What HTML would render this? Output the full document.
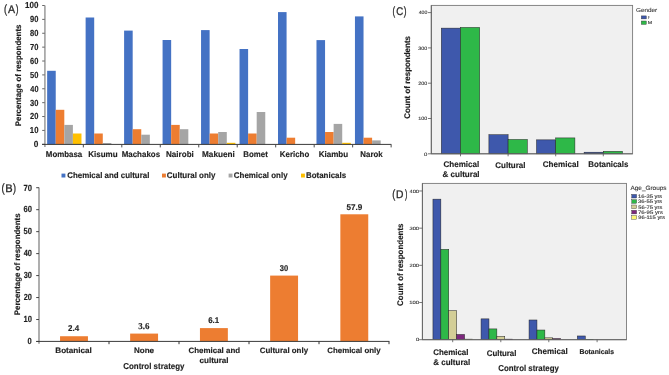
<!DOCTYPE html>
<html><head><meta charset="utf-8"><title>Figure</title>
<style>
html,body{margin:0;padding:0;background:#fff;}
body{width:669px;height:375px;overflow:hidden;font-family:"Liberation Sans", sans-serif;}
svg{display:block;will-change:transform;text-rendering:geometricPrecision;}
</style></head>
<body>
<svg width="669" height="375" viewBox="0 0 669 375">
<rect x="0" y="0" width="669" height="375" fill="#ffffff"/>
<rect x="47.15" y="70.80" width="8.58" height="73.60" fill="#4472C4"/>
<rect x="55.73" y="109.80" width="8.58" height="34.60" fill="#ED7D31"/>
<rect x="64.31" y="124.90" width="8.58" height="19.50" fill="#A5A5A5"/>
<rect x="72.89" y="133.50" width="8.58" height="10.90" fill="#FFC000"/>
<rect x="85.62" y="17.50" width="8.58" height="126.90" fill="#4472C4"/>
<rect x="94.20" y="133.50" width="8.58" height="10.90" fill="#ED7D31"/>
<rect x="102.78" y="143.00" width="8.58" height="1.40" fill="#A5A5A5"/>
<rect x="124.10" y="30.60" width="8.58" height="113.80" fill="#4472C4"/>
<rect x="132.68" y="129.20" width="8.58" height="15.20" fill="#ED7D31"/>
<rect x="141.26" y="134.70" width="8.58" height="9.70" fill="#A5A5A5"/>
<rect x="162.58" y="40.00" width="8.58" height="104.40" fill="#4472C4"/>
<rect x="171.16" y="124.90" width="8.58" height="19.50" fill="#ED7D31"/>
<rect x="179.74" y="129.20" width="8.58" height="15.20" fill="#A5A5A5"/>
<rect x="201.05" y="30.10" width="8.58" height="114.30" fill="#4472C4"/>
<rect x="209.63" y="133.50" width="8.58" height="10.90" fill="#ED7D31"/>
<rect x="218.21" y="132.00" width="8.58" height="12.40" fill="#A5A5A5"/>
<rect x="226.79" y="142.80" width="8.58" height="1.60" fill="#FFC000"/>
<rect x="239.53" y="49.00" width="8.58" height="95.40" fill="#4472C4"/>
<rect x="248.11" y="133.50" width="8.58" height="10.90" fill="#ED7D31"/>
<rect x="256.69" y="112.00" width="8.58" height="32.40" fill="#A5A5A5"/>
<rect x="278.00" y="12.10" width="8.58" height="132.30" fill="#4472C4"/>
<rect x="286.58" y="137.70" width="8.58" height="6.70" fill="#ED7D31"/>
<rect x="316.48" y="40.10" width="8.58" height="104.30" fill="#4472C4"/>
<rect x="325.06" y="132.00" width="8.58" height="12.40" fill="#ED7D31"/>
<rect x="333.64" y="123.90" width="8.58" height="20.50" fill="#A5A5A5"/>
<rect x="342.22" y="142.80" width="8.58" height="1.60" fill="#FFC000"/>
<rect x="354.95" y="16.40" width="8.58" height="128.00" fill="#4472C4"/>
<rect x="363.53" y="137.70" width="8.58" height="6.70" fill="#ED7D31"/>
<rect x="372.11" y="140.40" width="8.58" height="4.00" fill="#A5A5A5"/>
<line x1="44.90" y1="5.40" x2="44.90" y2="147.00" stroke="#A6A6A6" stroke-width="1.7"/>
<line x1="42.20" y1="144.30" x2="44.70" y2="144.30" stroke="#555" stroke-width="0.9"/>
<line x1="42.20" y1="130.42" x2="44.70" y2="130.42" stroke="#555" stroke-width="0.9"/>
<line x1="42.20" y1="116.54" x2="44.70" y2="116.54" stroke="#555" stroke-width="0.9"/>
<line x1="42.20" y1="102.66" x2="44.70" y2="102.66" stroke="#555" stroke-width="0.9"/>
<line x1="42.20" y1="88.78" x2="44.70" y2="88.78" stroke="#555" stroke-width="0.9"/>
<line x1="42.20" y1="74.90" x2="44.70" y2="74.90" stroke="#555" stroke-width="0.9"/>
<line x1="42.20" y1="61.02" x2="44.70" y2="61.02" stroke="#555" stroke-width="0.9"/>
<line x1="42.20" y1="47.14" x2="44.70" y2="47.14" stroke="#555" stroke-width="0.9"/>
<line x1="42.20" y1="33.26" x2="44.70" y2="33.26" stroke="#555" stroke-width="0.9"/>
<line x1="42.20" y1="19.38" x2="44.70" y2="19.38" stroke="#555" stroke-width="0.9"/>
<line x1="42.20" y1="5.50" x2="44.70" y2="5.50" stroke="#555" stroke-width="0.9"/>
<line x1="42.00" y1="144.40" x2="391.30" y2="144.40" stroke="#3a3a3a" stroke-width="1"/>
<line x1="83.33" y1="144.40" x2="83.33" y2="147.40" stroke="#4a4a4a" stroke-width="1.0"/>
<line x1="121.80" y1="144.40" x2="121.80" y2="147.40" stroke="#4a4a4a" stroke-width="1.0"/>
<line x1="160.28" y1="144.40" x2="160.28" y2="147.40" stroke="#4a4a4a" stroke-width="1.0"/>
<line x1="198.75" y1="144.40" x2="198.75" y2="147.40" stroke="#4a4a4a" stroke-width="1.0"/>
<line x1="237.22" y1="144.40" x2="237.22" y2="147.40" stroke="#4a4a4a" stroke-width="1.0"/>
<line x1="275.70" y1="144.40" x2="275.70" y2="147.40" stroke="#4a4a4a" stroke-width="1.0"/>
<line x1="314.18" y1="144.40" x2="314.18" y2="147.40" stroke="#4a4a4a" stroke-width="1.0"/>
<line x1="352.65" y1="144.40" x2="352.65" y2="147.40" stroke="#4a4a4a" stroke-width="1.0"/>
<line x1="391.13" y1="144.40" x2="391.13" y2="147.40" stroke="#4a4a4a" stroke-width="1.0"/>
<rect x="61.50" y="173.60" width="3.90" height="3.90" fill="#4472C4"/>
<rect x="162.00" y="173.60" width="3.90" height="3.90" fill="#ED7D31"/>
<rect x="228.60" y="173.60" width="3.90" height="3.90" fill="#A5A5A5"/>
<rect x="301.00" y="173.60" width="3.90" height="3.90" fill="#FFC000"/>
<rect x="60.05" y="336.23" width="27.90" height="5.17" fill="#ED7D31"/>
<rect x="130.15" y="333.59" width="27.90" height="7.81" fill="#ED7D31"/>
<rect x="199.95" y="328.10" width="27.90" height="13.30" fill="#ED7D31"/>
<rect x="270.15" y="275.59" width="27.90" height="65.81" fill="#ED7D31"/>
<rect x="340.35" y="214.29" width="27.90" height="127.11" fill="#ED7D31"/>
<line x1="39.00" y1="187.60" x2="39.00" y2="343.80" stroke="#A6A6A6" stroke-width="1.8"/>
<line x1="36.20" y1="341.50" x2="39.00" y2="341.50" stroke="#444" stroke-width="1.0"/>
<line x1="36.20" y1="319.53" x2="39.00" y2="319.53" stroke="#444" stroke-width="1.0"/>
<line x1="36.20" y1="297.56" x2="39.00" y2="297.56" stroke="#444" stroke-width="1.0"/>
<line x1="36.20" y1="275.59" x2="39.00" y2="275.59" stroke="#444" stroke-width="1.0"/>
<line x1="36.20" y1="253.62" x2="39.00" y2="253.62" stroke="#444" stroke-width="1.0"/>
<line x1="36.20" y1="231.65" x2="39.00" y2="231.65" stroke="#444" stroke-width="1.0"/>
<line x1="36.20" y1="209.68" x2="39.00" y2="209.68" stroke="#444" stroke-width="1.0"/>
<line x1="36.20" y1="187.71" x2="39.00" y2="187.71" stroke="#444" stroke-width="1.0"/>
<line x1="36.30" y1="341.40" x2="389.40" y2="341.40" stroke="#3a3a3a" stroke-width="1"/>
<line x1="109.00" y1="341.40" x2="109.00" y2="344.20" stroke="#333" stroke-width="1.0"/>
<line x1="179.00" y1="341.40" x2="179.00" y2="344.20" stroke="#333" stroke-width="1.0"/>
<line x1="249.00" y1="341.40" x2="249.00" y2="344.20" stroke="#333" stroke-width="1.0"/>
<line x1="319.00" y1="341.40" x2="319.00" y2="344.20" stroke="#333" stroke-width="1.0"/>
<line x1="389.00" y1="341.40" x2="389.00" y2="344.20" stroke="#333" stroke-width="1.0"/>
<rect x="431.30" y="5.40" width="201.30" height="148.40" fill="#F0F0F0" stroke="#7a7a7a" stroke-width="0.9"/>
<rect x="441.30" y="28.13" width="19.20" height="125.67" fill="#3E58AC" stroke="#222" stroke-width="0.5"/>
<rect x="460.50" y="27.43" width="19.20" height="126.37" fill="#2EB848" stroke="#222" stroke-width="0.5"/>
<rect x="488.90" y="134.74" width="19.20" height="19.06" fill="#3E58AC" stroke="#222" stroke-width="0.5"/>
<rect x="508.10" y="139.47" width="19.20" height="14.33" fill="#2EB848" stroke="#222" stroke-width="0.5"/>
<rect x="536.50" y="139.86" width="19.20" height="13.94" fill="#3E58AC" stroke="#222" stroke-width="0.5"/>
<rect x="555.70" y="137.92" width="19.20" height="15.88" fill="#2EB848" stroke="#222" stroke-width="0.5"/>
<rect x="584.10" y="152.21" width="19.20" height="1.59" fill="#3E58AC" stroke="#222" stroke-width="0.5"/>
<rect x="603.30" y="151.33" width="19.20" height="2.47" fill="#2EB848" stroke="#222" stroke-width="0.5"/>
<line x1="431.30" y1="5.40" x2="431.30" y2="153.80" stroke="#666" stroke-width="1"/>
<line x1="431.30" y1="153.80" x2="632.60" y2="153.80" stroke="#666" stroke-width="1"/>
<line x1="428.00" y1="153.80" x2="431.30" y2="153.80" stroke="#555" stroke-width="0.8"/>
<line x1="428.00" y1="118.50" x2="431.30" y2="118.50" stroke="#555" stroke-width="0.8"/>
<line x1="428.00" y1="83.20" x2="431.30" y2="83.20" stroke="#555" stroke-width="0.8"/>
<line x1="428.00" y1="47.90" x2="431.30" y2="47.90" stroke="#555" stroke-width="0.8"/>
<line x1="428.00" y1="12.60" x2="431.30" y2="12.60" stroke="#555" stroke-width="0.8"/>
<line x1="460.50" y1="153.80" x2="460.50" y2="156.30" stroke="#555" stroke-width="0.8"/>
<line x1="508.10" y1="153.80" x2="508.10" y2="156.30" stroke="#555" stroke-width="0.8"/>
<line x1="555.70" y1="153.80" x2="555.70" y2="156.30" stroke="#555" stroke-width="0.8"/>
<line x1="603.30" y1="153.80" x2="603.30" y2="156.30" stroke="#555" stroke-width="0.8"/>
<rect x="641.30" y="15.90" width="5.00" height="3.00" fill="#3E58AC" stroke="#333" stroke-width="0.4"/>
<rect x="641.30" y="21.00" width="5.00" height="3.40" fill="#2EB848" stroke="#333" stroke-width="0.4"/>
<rect x="422.40" y="183.40" width="204.10" height="156.30" fill="#F0F0F0" stroke="#7a7a7a" stroke-width="0.9"/>
<rect x="432.95" y="199.16" width="7.90" height="140.54" fill="#3E58AC" stroke="#222" stroke-width="0.5"/>
<rect x="440.85" y="249.35" width="7.90" height="90.35" fill="#2EB848" stroke="#222" stroke-width="0.5"/>
<rect x="448.75" y="310.70" width="7.90" height="29.00" fill="#D3CE97" stroke="#222" stroke-width="0.5"/>
<rect x="456.65" y="334.49" width="7.90" height="5.21" fill="#7C287D" stroke="#222" stroke-width="0.5"/>
<rect x="464.55" y="339.14" width="7.90" height="0.56" fill="#FBF873" stroke="#222" stroke-width="0.5"/>
<rect x="481.05" y="318.88" width="7.90" height="20.82" fill="#3E58AC" stroke="#222" stroke-width="0.5"/>
<rect x="488.95" y="328.92" width="7.90" height="10.78" fill="#2EB848" stroke="#222" stroke-width="0.5"/>
<rect x="496.85" y="336.35" width="7.90" height="3.35" fill="#D3CE97" stroke="#222" stroke-width="0.5"/>
<rect x="504.75" y="339.14" width="7.90" height="0.56" fill="#7C287D" stroke="#222" stroke-width="0.5"/>
<rect x="529.05" y="319.99" width="7.90" height="19.71" fill="#3E58AC" stroke="#222" stroke-width="0.5"/>
<rect x="536.95" y="330.03" width="7.90" height="9.67" fill="#2EB848" stroke="#222" stroke-width="0.5"/>
<rect x="544.85" y="337.84" width="7.90" height="1.86" fill="#D3CE97" stroke="#222" stroke-width="0.5"/>
<rect x="552.75" y="338.58" width="7.90" height="1.12" fill="#7C287D" stroke="#222" stroke-width="0.5"/>
<rect x="577.35" y="335.98" width="7.90" height="3.72" fill="#3E58AC" stroke="#222" stroke-width="0.5"/>
<rect x="585.25" y="339.33" width="7.90" height="0.37" fill="#2EB848" stroke="#222" stroke-width="0.5"/>
<line x1="422.40" y1="183.40" x2="422.40" y2="339.70" stroke="#666" stroke-width="1"/>
<line x1="422.40" y1="339.70" x2="626.50" y2="339.70" stroke="#666" stroke-width="1"/>
<line x1="419.20" y1="339.70" x2="422.40" y2="339.70" stroke="#555" stroke-width="0.8"/>
<line x1="419.20" y1="302.52" x2="422.40" y2="302.52" stroke="#555" stroke-width="0.8"/>
<line x1="419.20" y1="265.34" x2="422.40" y2="265.34" stroke="#555" stroke-width="0.8"/>
<line x1="419.20" y1="228.16" x2="422.40" y2="228.16" stroke="#555" stroke-width="0.8"/>
<line x1="419.20" y1="190.98" x2="422.40" y2="190.98" stroke="#555" stroke-width="0.8"/>
<line x1="452.70" y1="339.70" x2="452.70" y2="342.20" stroke="#555" stroke-width="0.8"/>
<line x1="500.80" y1="339.70" x2="500.80" y2="342.20" stroke="#555" stroke-width="0.8"/>
<line x1="548.80" y1="339.70" x2="548.80" y2="342.20" stroke="#555" stroke-width="0.8"/>
<line x1="597.10" y1="339.70" x2="597.10" y2="342.20" stroke="#555" stroke-width="0.8"/>
<rect x="631.80" y="194.40" width="4.80" height="3.60" fill="#3E58AC" stroke="#333" stroke-width="0.4"/>
<rect x="631.80" y="199.70" width="4.80" height="3.60" fill="#2EB848" stroke="#333" stroke-width="0.4"/>
<rect x="631.80" y="205.00" width="4.80" height="3.60" fill="#D3CE97" stroke="#333" stroke-width="0.4"/>
<rect x="631.80" y="210.30" width="4.80" height="3.60" fill="#7C287D" stroke="#333" stroke-width="0.4"/>
<rect x="631.80" y="215.60" width="4.80" height="3.60" fill="#FBF873" stroke="#333" stroke-width="0.4"/>
<text x="3.94" y="13.30" font-size="12.0" fill="#2a2a2a" stroke="#2a2a2a" stroke-width="0.3" font-family='"Liberation Sans", sans-serif' textLength="3.02" lengthAdjust="spacingAndGlyphs">(</text>
<text x="7.88" y="13.30" font-size="11.1" fill="#2a2a2a" stroke="#2a2a2a" stroke-width="0.3" font-family='"Liberation Sans", sans-serif' textLength="7.04" lengthAdjust="spacingAndGlyphs">A</text>
<text x="15.65" y="13.30" font-size="12.0" fill="#2a2a2a" stroke="#2a2a2a" stroke-width="0.3" font-family='"Liberation Sans", sans-serif' textLength="2.76" lengthAdjust="spacingAndGlyphs">)</text>
<text x="1.42" y="191.70" font-size="12.0" fill="#2a2a2a" stroke="#2a2a2a" stroke-width="0.3" font-family='"Liberation Sans", sans-serif' textLength="3.14" lengthAdjust="spacingAndGlyphs">(</text>
<text x="5.19" y="191.70" font-size="11.1" fill="#2a2a2a" stroke="#2a2a2a" stroke-width="0.3" font-family='"Liberation Sans", sans-serif' textLength="7.40" lengthAdjust="spacingAndGlyphs">B</text>
<text x="13.05" y="191.70" font-size="12.0" fill="#2a2a2a" stroke="#2a2a2a" stroke-width="0.3" font-family='"Liberation Sans", sans-serif' textLength="3.02" lengthAdjust="spacingAndGlyphs">)</text>
<text x="392.61" y="14.90" font-size="12.0" fill="#2a2a2a" stroke="#2a2a2a" stroke-width="0.3" font-family='"Liberation Sans", sans-serif' textLength="2.64" lengthAdjust="spacingAndGlyphs">(</text>
<text x="396.31" y="14.90" font-size="11.1" fill="#2a2a2a" stroke="#2a2a2a" stroke-width="0.3" font-family='"Liberation Sans", sans-serif' textLength="6.96" lengthAdjust="spacingAndGlyphs">C</text>
<text x="403.65" y="14.90" font-size="12.0" fill="#2a2a2a" stroke="#2a2a2a" stroke-width="0.3" font-family='"Liberation Sans", sans-serif' textLength="2.76" lengthAdjust="spacingAndGlyphs">)</text>
<text x="392.24" y="197.80" font-size="12.0" fill="#2a2a2a" stroke="#2a2a2a" stroke-width="0.3" font-family='"Liberation Sans", sans-serif' textLength="3.02" lengthAdjust="spacingAndGlyphs">(</text>
<text x="395.96" y="197.80" font-size="11.1" fill="#2a2a2a" stroke="#2a2a2a" stroke-width="0.3" font-family='"Liberation Sans", sans-serif' textLength="7.44" lengthAdjust="spacingAndGlyphs">D</text>
<text x="404.96" y="197.80" font-size="12.0" fill="#2a2a2a" stroke="#2a2a2a" stroke-width="0.3" font-family='"Liberation Sans", sans-serif' textLength="2.39" lengthAdjust="spacingAndGlyphs">)</text>
<text x="33.72" y="147.20" font-size="8.8" font-weight="bold" fill="#1e1e1e" stroke="#1e1e1e" stroke-width="0.15" font-family='"Liberation Sans", sans-serif' textLength="4.62" lengthAdjust="spacingAndGlyphs">0</text>
<text x="29.87" y="133.32" font-size="8.8" font-weight="bold" fill="#1e1e1e" stroke="#1e1e1e" stroke-width="0.15" font-family='"Liberation Sans", sans-serif' textLength="8.62" lengthAdjust="spacingAndGlyphs">10</text>
<text x="30.10" y="119.44" font-size="8.8" font-weight="bold" fill="#1e1e1e" stroke="#1e1e1e" stroke-width="0.15" font-family='"Liberation Sans", sans-serif' textLength="8.38" lengthAdjust="spacingAndGlyphs">20</text>
<text x="30.10" y="105.56" font-size="8.8" font-weight="bold" fill="#1e1e1e" stroke="#1e1e1e" stroke-width="0.15" font-family='"Liberation Sans", sans-serif' textLength="8.38" lengthAdjust="spacingAndGlyphs">30</text>
<text x="30.32" y="91.68" font-size="8.8" font-weight="bold" fill="#1e1e1e" stroke="#1e1e1e" stroke-width="0.15" font-family='"Liberation Sans", sans-serif' textLength="8.16" lengthAdjust="spacingAndGlyphs">40</text>
<text x="30.10" y="77.80" font-size="8.8" font-weight="bold" fill="#1e1e1e" stroke="#1e1e1e" stroke-width="0.15" font-family='"Liberation Sans", sans-serif' textLength="8.38" lengthAdjust="spacingAndGlyphs">50</text>
<text x="30.10" y="63.92" font-size="8.8" font-weight="bold" fill="#1e1e1e" stroke="#1e1e1e" stroke-width="0.15" font-family='"Liberation Sans", sans-serif' textLength="8.38" lengthAdjust="spacingAndGlyphs">60</text>
<text x="30.10" y="50.04" font-size="8.8" font-weight="bold" fill="#1e1e1e" stroke="#1e1e1e" stroke-width="0.15" font-family='"Liberation Sans", sans-serif' textLength="8.38" lengthAdjust="spacingAndGlyphs">70</text>
<text x="30.10" y="36.16" font-size="8.8" font-weight="bold" fill="#1e1e1e" stroke="#1e1e1e" stroke-width="0.15" font-family='"Liberation Sans", sans-serif' textLength="8.38" lengthAdjust="spacingAndGlyphs">80</text>
<text x="30.10" y="22.28" font-size="8.8" font-weight="bold" fill="#1e1e1e" stroke="#1e1e1e" stroke-width="0.15" font-family='"Liberation Sans", sans-serif' textLength="8.38" lengthAdjust="spacingAndGlyphs">90</text>
<text x="25.01" y="8.40" font-size="8.8" font-weight="bold" fill="#1e1e1e" stroke="#1e1e1e" stroke-width="0.15" font-family='"Liberation Sans", sans-serif' textLength="13.35" lengthAdjust="spacingAndGlyphs">100</text>
<text x="45.87" y="157.30" font-size="8.2" font-weight="bold" fill="#1e1e1e" stroke="#1e1e1e" stroke-width="0.15" font-family='"Liberation Sans", sans-serif' textLength="36.40" lengthAdjust="spacingAndGlyphs">Mombasa</text>
<text x="88.16" y="157.30" font-size="8.2" font-weight="bold" fill="#1e1e1e" stroke="#1e1e1e" stroke-width="0.15" font-family='"Liberation Sans", sans-serif' textLength="29.41" lengthAdjust="spacingAndGlyphs">Kisumu</text>
<text x="121.67" y="157.30" font-size="8.2" font-weight="bold" fill="#1e1e1e" stroke="#1e1e1e" stroke-width="0.15" font-family='"Liberation Sans", sans-serif' textLength="38.42" lengthAdjust="spacingAndGlyphs">Machakos</text>
<text x="166.01" y="157.30" font-size="8.2" font-weight="bold" fill="#1e1e1e" stroke="#1e1e1e" stroke-width="0.15" font-family='"Liberation Sans", sans-serif' textLength="27.86" lengthAdjust="spacingAndGlyphs">Nairobi</text>
<text x="202.00" y="157.30" font-size="8.2" font-weight="bold" fill="#1e1e1e" stroke="#1e1e1e" stroke-width="0.15" font-family='"Liberation Sans", sans-serif' textLength="32.82" lengthAdjust="spacingAndGlyphs">Makueni</text>
<text x="243.32" y="157.30" font-size="8.2" font-weight="bold" fill="#1e1e1e" stroke="#1e1e1e" stroke-width="0.15" font-family='"Liberation Sans", sans-serif' textLength="24.51" lengthAdjust="spacingAndGlyphs">Bomet</text>
<text x="279.82" y="157.30" font-size="8.2" font-weight="bold" fill="#1e1e1e" stroke="#1e1e1e" stroke-width="0.15" font-family='"Liberation Sans", sans-serif' textLength="29.45" lengthAdjust="spacingAndGlyphs">Kericho</text>
<text x="318.66" y="157.30" font-size="8.2" font-weight="bold" fill="#1e1e1e" stroke="#1e1e1e" stroke-width="0.15" font-family='"Liberation Sans", sans-serif' textLength="29.51" lengthAdjust="spacingAndGlyphs">Kiambu</text>
<text x="360.37" y="157.20" font-size="8.2" font-weight="bold" fill="#1e1e1e" stroke="#1e1e1e" stroke-width="0.15" font-family='"Liberation Sans", sans-serif' textLength="22.25" lengthAdjust="spacingAndGlyphs">Narok</text>
<text transform="translate(21.30 126.18) rotate(-90)" x="0" y="0" font-size="8.1" font-weight="bold" fill="#1e1e1e" stroke="#1e1e1e" stroke-width="0.15" font-family='"Liberation Sans", sans-serif' textLength="101.64" lengthAdjust="spacingAndGlyphs">Percentage of respondents</text>
<text x="67.22" y="178.10" font-size="8.3" font-weight="bold" fill="#1e1e1e" stroke="#1e1e1e" stroke-width="0.15" font-family='"Liberation Sans", sans-serif' textLength="82.12" lengthAdjust="spacingAndGlyphs">Chemical and cultural</text>
<text x="166.87" y="178.10" font-size="8.3" font-weight="bold" fill="#1e1e1e" stroke="#1e1e1e" stroke-width="0.15" font-family='"Liberation Sans", sans-serif' textLength="48.59" lengthAdjust="spacingAndGlyphs">Cultural only</text>
<text x="233.87" y="178.10" font-size="8.3" font-weight="bold" fill="#1e1e1e" stroke="#1e1e1e" stroke-width="0.15" font-family='"Liberation Sans", sans-serif' textLength="53.69" lengthAdjust="spacingAndGlyphs">Chemical only</text>
<text x="305.98" y="178.10" font-size="8.3" font-weight="bold" fill="#1e1e1e" stroke="#1e1e1e" stroke-width="0.15" font-family='"Liberation Sans", sans-serif' textLength="40.13" lengthAdjust="spacingAndGlyphs">Botanicals</text>
<text x="27.60" y="344.30" font-size="8.9" font-weight="bold" fill="#1e1e1e" stroke="#1e1e1e" stroke-width="0.15" font-family='"Liberation Sans", sans-serif' textLength="4.18" lengthAdjust="spacingAndGlyphs">0</text>
<text x="23.42" y="322.33" font-size="8.9" font-weight="bold" fill="#1e1e1e" stroke="#1e1e1e" stroke-width="0.15" font-family='"Liberation Sans", sans-serif' textLength="8.45" lengthAdjust="spacingAndGlyphs">10</text>
<text x="23.63" y="300.36" font-size="8.9" font-weight="bold" fill="#1e1e1e" stroke="#1e1e1e" stroke-width="0.15" font-family='"Liberation Sans", sans-serif' textLength="8.22" lengthAdjust="spacingAndGlyphs">20</text>
<text x="23.63" y="278.39" font-size="8.9" font-weight="bold" fill="#1e1e1e" stroke="#1e1e1e" stroke-width="0.15" font-family='"Liberation Sans", sans-serif' textLength="8.22" lengthAdjust="spacingAndGlyphs">30</text>
<text x="23.63" y="256.42" font-size="8.9" font-weight="bold" fill="#1e1e1e" stroke="#1e1e1e" stroke-width="0.15" font-family='"Liberation Sans", sans-serif' textLength="8.22" lengthAdjust="spacingAndGlyphs">40</text>
<text x="23.42" y="234.45" font-size="8.9" font-weight="bold" fill="#1e1e1e" stroke="#1e1e1e" stroke-width="0.15" font-family='"Liberation Sans", sans-serif' textLength="8.45" lengthAdjust="spacingAndGlyphs">50</text>
<text x="23.42" y="212.48" font-size="8.9" font-weight="bold" fill="#1e1e1e" stroke="#1e1e1e" stroke-width="0.15" font-family='"Liberation Sans", sans-serif' textLength="8.45" lengthAdjust="spacingAndGlyphs">60</text>
<text x="23.42" y="190.51" font-size="8.9" font-weight="bold" fill="#1e1e1e" stroke="#1e1e1e" stroke-width="0.15" font-family='"Liberation Sans", sans-serif' textLength="8.45" lengthAdjust="spacingAndGlyphs">70</text>
<text x="68.07" y="330.90" font-size="8.4" font-weight="bold" fill="#1e1e1e" stroke="#1e1e1e" stroke-width="0.15" font-family='"Liberation Sans", sans-serif' textLength="11.09" lengthAdjust="spacingAndGlyphs">2.4</text>
<text x="138.35" y="329.00" font-size="9.0" font-weight="bold" fill="#1e1e1e" stroke="#1e1e1e" stroke-width="0.15" font-family='"Liberation Serif", serif' textLength="11.14" lengthAdjust="spacingAndGlyphs">3.6</text>
<text x="208.22" y="323.00" font-size="8.4" font-weight="bold" fill="#1e1e1e" stroke="#1e1e1e" stroke-width="0.15" font-family='"Liberation Sans", sans-serif' textLength="11.02" lengthAdjust="spacingAndGlyphs">6.1</text>
<text x="279.77" y="270.50" font-size="8.4" font-weight="bold" fill="#1e1e1e" stroke="#1e1e1e" stroke-width="0.15" font-family='"Liberation Sans", sans-serif' textLength="8.42" lengthAdjust="spacingAndGlyphs">30</text>
<text x="346.41" y="209.90" font-size="8.4" font-weight="bold" fill="#1e1e1e" stroke="#1e1e1e" stroke-width="0.15" font-family='"Liberation Sans", sans-serif' textLength="15.85" lengthAdjust="spacingAndGlyphs">57.9</text>
<text x="55.28" y="352.80" font-size="7.9" font-weight="bold" fill="#1e1e1e" stroke="#1e1e1e" stroke-width="0.15" font-family='"Liberation Sans", sans-serif' textLength="36.60" lengthAdjust="spacingAndGlyphs">Botanical</text>
<text x="133.94" y="352.80" font-size="7.9" font-weight="bold" fill="#1e1e1e" stroke="#1e1e1e" stroke-width="0.15" font-family='"Liberation Sans", sans-serif' textLength="20.10" lengthAdjust="spacingAndGlyphs">None</text>
<text x="188.55" y="352.80" font-size="7.9" font-weight="bold" fill="#1e1e1e" stroke="#1e1e1e" stroke-width="0.15" font-family='"Liberation Sans", sans-serif' textLength="51.52" lengthAdjust="spacingAndGlyphs">Chemical and</text>
<text x="199.54" y="362.50" font-size="7.9" font-weight="bold" fill="#1e1e1e" stroke="#1e1e1e" stroke-width="0.15" font-family='"Liberation Sans", sans-serif' textLength="29.02" lengthAdjust="spacingAndGlyphs">cultural</text>
<text x="259.75" y="353.30" font-size="7.9" font-weight="bold" fill="#1e1e1e" stroke="#1e1e1e" stroke-width="0.15" font-family='"Liberation Sans", sans-serif' textLength="48.28" lengthAdjust="spacingAndGlyphs">Cultural only</text>
<text x="327.35" y="353.30" font-size="7.9" font-weight="bold" fill="#1e1e1e" stroke="#1e1e1e" stroke-width="0.15" font-family='"Liberation Sans", sans-serif' textLength="53.20" lengthAdjust="spacingAndGlyphs">Chemical only</text>
<text x="123.27" y="368.50" font-size="8.6" font-weight="bold" fill="#1e1e1e" stroke="#1e1e1e" stroke-width="0.15" font-family='"Liberation Sans", sans-serif' textLength="61.15" lengthAdjust="spacingAndGlyphs">Control strategy</text>
<text transform="translate(19.50 315.18) rotate(-90)" x="0" y="0" font-size="8.1" font-weight="bold" fill="#1e1e1e" stroke="#1e1e1e" stroke-width="0.15" font-family='"Liberation Sans", sans-serif' textLength="101.74" lengthAdjust="spacingAndGlyphs">Percentage of respondents</text>
<text x="424.05" y="155.60" font-size="4.8" font-weight="normal" fill="#3a3a3a" stroke="#3a3a3a" stroke-width="0.12" font-family='"Liberation Sans", sans-serif' textLength="3.33" lengthAdjust="spacingAndGlyphs">0</text>
<text x="418.36" y="120.30" font-size="4.8" font-weight="normal" fill="#3a3a3a" stroke="#3a3a3a" stroke-width="0.12" font-family='"Liberation Sans", sans-serif' textLength="8.98" lengthAdjust="spacingAndGlyphs">100</text>
<text x="418.36" y="85.00" font-size="4.8" font-weight="normal" fill="#3a3a3a" stroke="#3a3a3a" stroke-width="0.12" font-family='"Liberation Sans", sans-serif' textLength="8.98" lengthAdjust="spacingAndGlyphs">200</text>
<text x="418.36" y="49.70" font-size="4.8" font-weight="normal" fill="#3a3a3a" stroke="#3a3a3a" stroke-width="0.12" font-family='"Liberation Sans", sans-serif' textLength="8.98" lengthAdjust="spacingAndGlyphs">300</text>
<text x="418.65" y="14.40" font-size="4.8" font-weight="normal" fill="#3a3a3a" stroke="#3a3a3a" stroke-width="0.12" font-family='"Liberation Sans", sans-serif' textLength="8.69" lengthAdjust="spacingAndGlyphs">400</text>
<text x="443.56" y="166.80" font-size="8.2" font-weight="bold" fill="#1e1e1e" stroke="#1e1e1e" stroke-width="0.15" font-family='"Liberation Sans", sans-serif' textLength="35.69" lengthAdjust="spacingAndGlyphs">Chemical</text>
<text x="442.51" y="176.80" font-size="8.2" font-weight="bold" fill="#1e1e1e" stroke="#1e1e1e" stroke-width="0.15" font-family='"Liberation Sans", sans-serif' textLength="37.10" lengthAdjust="spacingAndGlyphs">&amp; cultural</text>
<text x="495.36" y="167.90" font-size="8.2" font-weight="bold" fill="#1e1e1e" stroke="#1e1e1e" stroke-width="0.15" font-family='"Liberation Sans", sans-serif' textLength="30.11" lengthAdjust="spacingAndGlyphs">Cultural</text>
<text x="542.75" y="166.80" font-size="8.2" font-weight="bold" fill="#1e1e1e" stroke="#1e1e1e" stroke-width="0.15" font-family='"Liberation Sans", sans-serif' textLength="35.89" lengthAdjust="spacingAndGlyphs">Chemical</text>
<text x="588.37" y="166.60" font-size="8.2" font-weight="bold" fill="#1e1e1e" stroke="#1e1e1e" stroke-width="0.15" font-family='"Liberation Sans", sans-serif' textLength="39.97" lengthAdjust="spacingAndGlyphs">Botanicals</text>
<text transform="translate(409.90 118.79) rotate(-90)" x="0" y="0" font-size="8.2" font-weight="bold" fill="#1e1e1e" stroke="#1e1e1e" stroke-width="0.15" font-family='"Liberation Sans", sans-serif' textLength="82.79" lengthAdjust="spacingAndGlyphs">Count of respondents</text>
<text x="636.08" y="12.10" font-size="5.8" font-weight="normal" fill="#3a3a3a" stroke="#3a3a3a" stroke-width="0.12" font-family='"Liberation Sans", sans-serif' textLength="21.07" lengthAdjust="spacingAndGlyphs">Gender</text>
<text x="647.82" y="19.20" font-size="4.4" font-weight="normal" fill="#3a3a3a" stroke="#3a3a3a" stroke-width="0.12" font-family='"Liberation Sans", sans-serif' textLength="2.15" lengthAdjust="spacingAndGlyphs">F</text>
<text x="647.70" y="23.90" font-size="4.4" font-weight="normal" fill="#3a3a3a" stroke="#3a3a3a" stroke-width="0.12" font-family='"Liberation Sans", sans-serif' textLength="4.41" lengthAdjust="spacingAndGlyphs">M</text>
<text x="415.91" y="341.40" font-size="4.7" font-weight="normal" fill="#3a3a3a" stroke="#3a3a3a" stroke-width="0.12" font-family='"Liberation Sans", sans-serif' textLength="3.25" lengthAdjust="spacingAndGlyphs">0</text>
<text x="409.24" y="304.22" font-size="4.7" font-weight="normal" fill="#3a3a3a" stroke="#3a3a3a" stroke-width="0.12" font-family='"Liberation Sans", sans-serif' textLength="9.79" lengthAdjust="spacingAndGlyphs">100</text>
<text x="409.56" y="267.04" font-size="4.7" font-weight="normal" fill="#3a3a3a" stroke="#3a3a3a" stroke-width="0.12" font-family='"Liberation Sans", sans-serif' textLength="9.50" lengthAdjust="spacingAndGlyphs">200</text>
<text x="409.56" y="229.86" font-size="4.7" font-weight="normal" fill="#3a3a3a" stroke="#3a3a3a" stroke-width="0.12" font-family='"Liberation Sans", sans-serif' textLength="9.50" lengthAdjust="spacingAndGlyphs">300</text>
<text x="409.56" y="192.68" font-size="4.7" font-weight="normal" fill="#3a3a3a" stroke="#3a3a3a" stroke-width="0.12" font-family='"Liberation Sans", sans-serif' textLength="9.50" lengthAdjust="spacingAndGlyphs">400</text>
<text x="433.21" y="355.00" font-size="8.2" font-weight="bold" fill="#1e1e1e" stroke="#1e1e1e" stroke-width="0.15" font-family='"Liberation Sans", sans-serif' textLength="35.28" lengthAdjust="spacingAndGlyphs">Chemical</text>
<text x="433.21" y="365.00" font-size="8.2" font-weight="bold" fill="#1e1e1e" stroke="#1e1e1e" stroke-width="0.15" font-family='"Liberation Sans", sans-serif' textLength="36.99" lengthAdjust="spacingAndGlyphs">&amp; cultural</text>
<text x="486.76" y="355.60" font-size="8.2" font-weight="bold" fill="#1e1e1e" stroke="#1e1e1e" stroke-width="0.15" font-family='"Liberation Sans", sans-serif' textLength="29.66" lengthAdjust="spacingAndGlyphs">Cultural</text>
<text x="531.75" y="354.40" font-size="8.2" font-weight="bold" fill="#1e1e1e" stroke="#1e1e1e" stroke-width="0.15" font-family='"Liberation Sans", sans-serif' textLength="35.89" lengthAdjust="spacingAndGlyphs">Chemical</text>
<text x="579.51" y="354.10" font-size="7.0" font-weight="bold" fill="#1e1e1e" stroke="#1e1e1e" stroke-width="0.15" font-family='"Liberation Sans", sans-serif' textLength="34.48" lengthAdjust="spacingAndGlyphs">Botanicals</text>
<text x="498.23" y="371.00" font-size="8.6" font-weight="bold" fill="#1e1e1e" stroke="#1e1e1e" stroke-width="0.15" font-family='"Liberation Sans", sans-serif' textLength="60.57" lengthAdjust="spacingAndGlyphs">Control strategy</text>
<text transform="translate(403.30 305.94) rotate(-90)" x="0" y="0" font-size="8.2" font-weight="bold" fill="#1e1e1e" stroke="#1e1e1e" stroke-width="0.15" font-family='"Liberation Sans", sans-serif' textLength="82.39" lengthAdjust="spacingAndGlyphs">Count of respondents</text>
<text x="630.44" y="190.40" font-size="6.2" font-weight="normal" fill="#3a3a3a" stroke="#3a3a3a" stroke-width="0.12" font-family='"Liberation Sans", sans-serif' textLength="36.12" lengthAdjust="spacingAndGlyphs">Age_Groups</text>
<text x="637.99" y="197.90" font-size="5.0" font-weight="normal" fill="#333" stroke="#333" stroke-width="0.12" font-family='"Liberation Sans", sans-serif' textLength="24.29" lengthAdjust="spacingAndGlyphs">16-35 yrs</text>
<text x="637.99" y="203.20" font-size="5.0" font-weight="normal" fill="#333" stroke="#333" stroke-width="0.12" font-family='"Liberation Sans", sans-serif' textLength="24.29" lengthAdjust="spacingAndGlyphs">36-55 yrs</text>
<text x="638.28" y="208.50" font-size="5.0" font-weight="normal" fill="#333" stroke="#333" stroke-width="0.12" font-family='"Liberation Sans", sans-serif' textLength="24.00" lengthAdjust="spacingAndGlyphs">56-75 yrs</text>
<text x="637.98" y="213.80" font-size="5.0" font-weight="normal" fill="#333" stroke="#333" stroke-width="0.12" font-family='"Liberation Sans", sans-serif' textLength="24.91" lengthAdjust="spacingAndGlyphs">76-95 yrs</text>
<text x="638.28" y="219.10" font-size="5.0" font-weight="normal" fill="#333" stroke="#333" stroke-width="0.12" font-family='"Liberation Sans", sans-serif' textLength="26.81" lengthAdjust="spacingAndGlyphs">96-115 yrs</text>
</svg>
</body></html>
